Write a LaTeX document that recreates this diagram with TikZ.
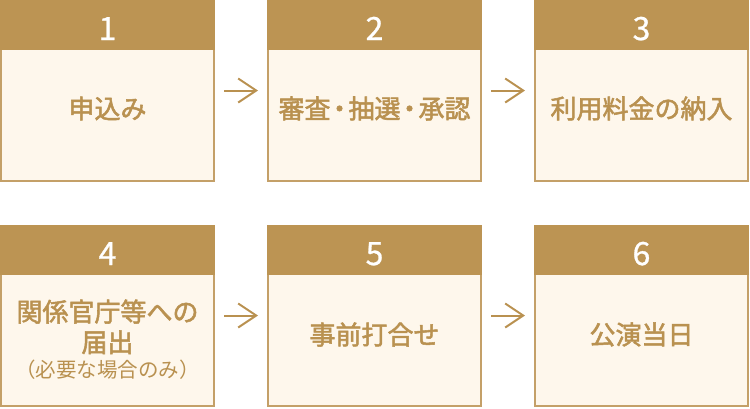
\documentclass[tikz,border=0pt]{standalone}
\usepackage{fontspec}
\usetikzlibrary{arrows.meta,calc}
\newfontfamily\jp{Noto Sans CJK JP}[FakeBold=2]
\newfontfamily\jplight{Noto Sans CJK JP}
\newfontfamily\numfont{Noto Sans CJK JP}[FakeBold=0.8]
\definecolor{gold}{HTML}{BC9453}
\definecolor{goldline}{HTML}{C4A068}
\definecolor{goldtext}{HTML}{B99150}
\definecolor{cream}{HTML}{FEF7EC}
\newcommand{\pdot}{\kern-4pt・\kern-4pt}
\tikzset{
  headbox/.style={fill=gold, draw=none, inner sep=0pt, outer sep=0pt,
    minimum width=215pt, minimum height=50pt, anchor=north west},
  bodybox/.style={fill=cream, draw=goldline, line width=2pt, inner sep=0pt, outer sep=0pt,
    minimum width=213pt, minimum height=132pt, anchor=north west},
  numtxt/.style={text=white, font=\numfont\fontsize{32}{32}\selectfont, inner sep=0pt, anchor=base},
  steptxt/.style={text=goldtext, font=\jp\fontsize{26}{30.5}\selectfont, inner sep=0pt, align=center},
  flowarrow/.style={draw=goldtext, line width=2pt, -{Straight Barb[length=18pt,width=24pt]},
    shorten <=9.5pt, shorten >=9.5pt},
}
\begin{document}
\begin{tikzpicture}[x=1pt,y=-1pt]
\useasboundingbox (0,0) rectangle (750,408);
% row 1
\node[bodybox] (b1) at (1,49) {};
\node[headbox] (h1) at (0,0) {};
\node[bodybox] (b2) at (268,49) {};
\node[headbox] (h2) at (267,0) {};
\node[bodybox] (b3) at (535,49) {};
\node[headbox] (h3) at (534,0) {};
% row 2
\node[bodybox] (b4) at (1,274) {};
\node[headbox] (h4) at (0,225) {};
\node[bodybox] (b5) at (268,274) {};
\node[headbox] (h5) at (267,225) {};
\node[bodybox] (b6) at (535,274) {};
\node[headbox] (h6) at (534,225) {};
% numbers
\node[numtxt] (n1) at (107.5,40) {1};
\node[numtxt] (n2) at (374.5,40) {2};
\node[numtxt] (n3) at (641.5,40) {3};
\node[numtxt] (n4) at (107.5,265) {4};
\node[numtxt] (n5) at (374.5,265) {5};
\node[numtxt] (n6) at (641.5,265) {6};
% texts
\node[steptxt] (t1) at (107.5,108.5) {申込み};
\node[steptxt] (t2) at (374.5,108.5) {審査\pdot 抽選\pdot 承認};
\node[steptxt] (t3) at (641.5,108.5) {利用料金の納入};
\node[steptxt] (t4) at (107.5,339.5) {関係官庁等への\\届出\\[-5pt]{\jplight\fontsize{20.5}{22}\selectfont （必要な場合のみ）}};
\node[steptxt] (t5) at (374.5,334.5) {事前打合せ};
\node[steptxt] (t6) at (641.5,334.5) {公演当日};
% arrows
\draw[flowarrow] ($(h1.north east)!0.5!(b1.south east)$) -- ($(h2.north west)!0.5!(b2.south west)$);
\draw[flowarrow] ($(h2.north east)!0.5!(b2.south east)$) -- ($(h3.north west)!0.5!(b3.south west)$);
\draw[flowarrow] ($(h4.north east)!0.5!(b4.south east)$) -- ($(h5.north west)!0.5!(b5.south west)$);
\draw[flowarrow] ($(h5.north east)!0.5!(b5.south east)$) -- ($(h6.north west)!0.5!(b6.south west)$);
\end{tikzpicture}
\end{document}
